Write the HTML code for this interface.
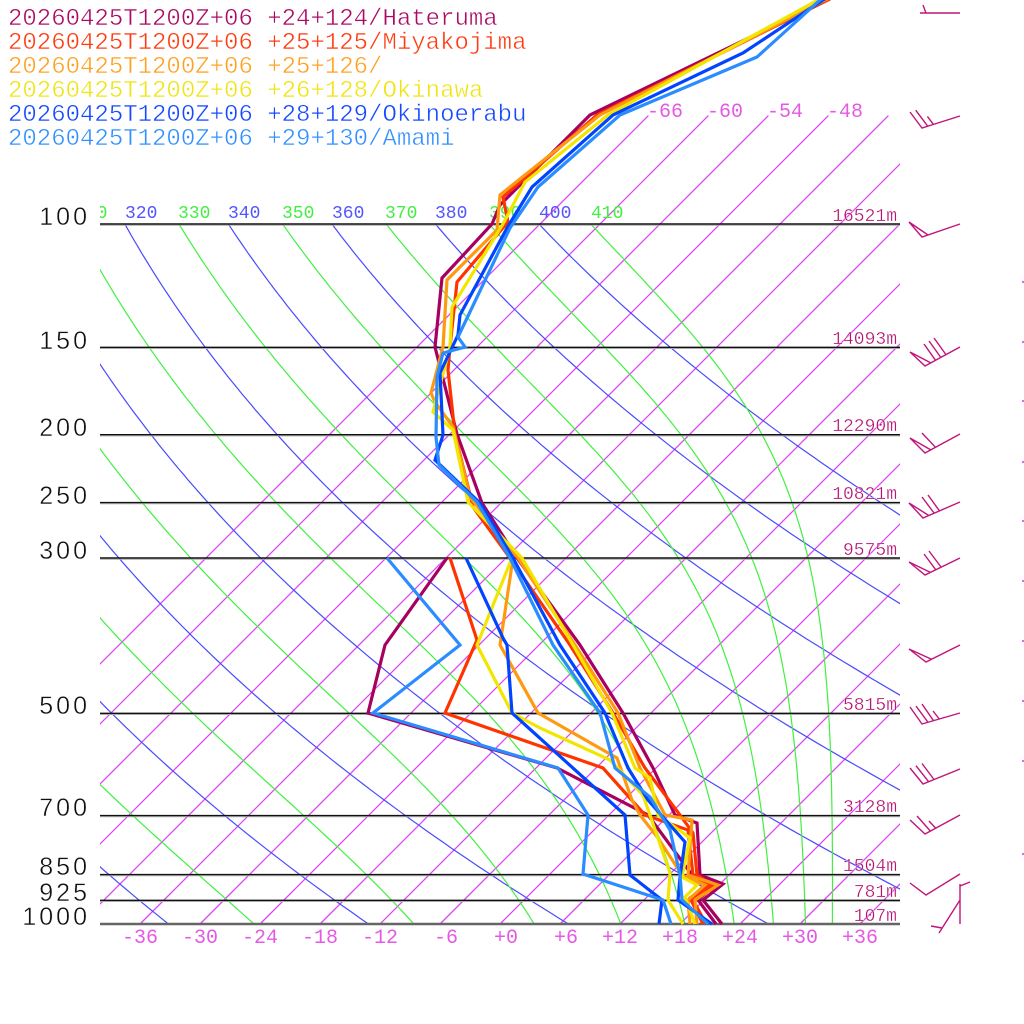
<!DOCTYPE html>
<html>
<head>
<meta charset="utf-8">
<style>
html,body{margin:0;padding:0;background:#fff;overflow:hidden;}
svg{display:block;}
.lg{font-family:"Liberation Mono",monospace;font-size:24px;stroke:#fff;stroke-width:0.45px;}
.pl{font-family:"Liberation Sans",sans-serif;font-size:25px;fill:#111;letter-spacing:3px;stroke:#fff;stroke-width:0.4px;}
.hl{font-family:"Liberation Mono",monospace;font-size:18px;fill:#b3126f;stroke:#fff;stroke-width:0.3px;}
.tl{font-family:"Liberation Mono",monospace;font-size:20px;fill:#e45ae4;}
.th{font-family:"Liberation Mono",monospace;font-size:18px;}
</style>
</head>
<body>
<svg id="s" width="1024" height="1024" viewBox="0 0 1024 1024" xmlns="http://www.w3.org/2000/svg">
<defs>
<clipPath id="pc"><rect x="100" y="0" width="800" height="925"/></clipPath>
<clipPath id="lc"><rect x="100" y="190" width="800" height="40"/></clipPath>
</defs>
<rect x="0" y="0" width="1024" height="1024" fill="#fff"/>
<g id="grid" clip-path="url(#pc)"></g>

<!-- theta labels -->
<g clip-path="url(#lc)" class="th">
<text x="75" y="218" fill="#44ee44">310</text>
<text x="125" y="218" fill="#5555ff">320</text>
<text x="178" y="218" fill="#44ee44">330</text>
<text x="228" y="218" fill="#5555ff">340</text>
<text x="282" y="218" fill="#44ee44">350</text>
<text x="332" y="218" fill="#5555ff">360</text>
<text x="385" y="218" fill="#44ee44">370</text>
<text x="435" y="218" fill="#5555ff">380</text>
<text x="489" y="218" fill="#44ee44">390</text>
<text x="539" y="218" fill="#5555ff">400</text>
<text x="591" y="218" fill="#44ee44">410</text>
</g>

<!-- isotherm labels -->
<g class="tl">
<text x="647" y="117">-66</text>
<text x="707" y="117">-60</text>
<text x="767" y="117">-54</text>
<text x="827" y="117">-48</text>
</g>

<!-- pressure lines -->
<g stroke-width="1">
<line x1="100" y1="225.2" x2="900" y2="225.2" stroke="#aaa"/>
<line x1="100" y1="224" x2="900" y2="224" stroke="#111" stroke-width="1.4"/>
<line x1="100" y1="348.5" x2="900" y2="348.5" stroke="#aaa"/>
<line x1="100" y1="347.3" x2="900" y2="347.3" stroke="#111" stroke-width="1.4"/>
<line x1="100" y1="435.9" x2="900" y2="435.9" stroke="#aaa"/>
<line x1="100" y1="434.7" x2="900" y2="434.7" stroke="#111" stroke-width="1.4"/>
<line x1="100" y1="503.8" x2="900" y2="503.8" stroke="#aaa"/>
<line x1="100" y1="502.6" x2="900" y2="502.6" stroke="#111" stroke-width="1.4"/>
<line x1="100" y1="559.2" x2="900" y2="559.2" stroke="#aaa"/>
<line x1="100" y1="558" x2="900" y2="558" stroke="#111" stroke-width="1.4"/>
<line x1="100" y1="714.5" x2="900" y2="714.5" stroke="#aaa"/>
<line x1="100" y1="713.3" x2="900" y2="713.3" stroke="#111" stroke-width="1.4"/>
<line x1="100" y1="816.8" x2="900" y2="816.8" stroke="#aaa"/>
<line x1="100" y1="815.6" x2="900" y2="815.6" stroke="#111" stroke-width="1.4"/>
<line x1="100" y1="875.8" x2="900" y2="875.8" stroke="#aaa"/>
<line x1="100" y1="874.6" x2="900" y2="874.6" stroke="#111" stroke-width="1.4"/>
<line x1="100" y1="901.5" x2="900" y2="901.5" stroke="#aaa"/>
<line x1="100" y1="900.3" x2="900" y2="900.3" stroke="#111" stroke-width="1.4"/>
<line x1="100" y1="924" x2="900" y2="924" stroke="#666" stroke-width="2.6"/>
</g>

<!-- pressure labels -->
<g class="pl" text-anchor="end">
<text x="90" y="225">100</text>
<text x="90" y="349">150</text>
<text x="90" y="436">200</text>
<text x="90" y="504">250</text>
<text x="90" y="559">300</text>
<text x="90" y="714">500</text>
<text x="90" y="816">700</text>
<text x="90" y="875">850</text>
<text x="90" y="901">925</text>
<text x="90" y="925">1000</text>
</g>

<!-- height labels -->
<g class="hl" text-anchor="end">
<text x="897" y="221">16521m</text>
<text x="897" y="344">14093m</text>
<text x="897" y="431">12290m</text>
<text x="897" y="499">10821m</text>
<text x="897" y="555">9575m</text>
<text x="897" y="710">5815m</text>
<text x="897" y="812">3128m</text>
<text x="897" y="871">1504m</text>
<text x="897" y="897">781m</text>
<text x="897" y="921">107m</text>
</g>

<!-- temperature axis labels -->
<g class="tl">
<text x="122" y="943">-36</text>
<text x="182" y="943">-30</text>
<text x="242" y="943">-24</text>
<text x="302" y="943">-18</text>
<text x="362" y="943">-12</text>
<text x="434" y="943">-6</text>
<text x="494" y="943">+0</text>
<text x="554" y="943">+6</text>
<text x="602" y="943">+12</text>
<text x="662" y="943">+18</text>
<text x="722" y="943">+24</text>
<text x="782" y="943">+30</text>
<text x="842" y="943">+36</text>
</g>

<!-- soundings -->
<g fill="none" stroke-width="3.2" stroke-linejoin="miter" stroke-miterlimit="3">
<polyline stroke="#a8005f" points="716,924 698,900 715,885 692,875 648,815 557,768 368,713 385,645 447,558"/>
<polyline stroke="#a8005f" points="722,924 703,900 723,884 700,875 697,823 675,815 653,768 623,713 580,645 517,558 482,503 457,434 435,347 442,278 492,224 500,205 590,115 827,0 850,-12"/>
<polyline stroke="#ff3300" points="703,924 690,898 708,885 693,875 688,830 645,815 603,768 445,713 477,640 450,558"/>
<polyline stroke="#ff3300" points="706,924 692,898 712,885 697,875 693,833 680,815 645,768 613,713 570,645 510,558 473,507 455,434 448,370 450,347 457,282 508,222 503,197 597,115 828,0 850,-12"/>
<polyline stroke="#ff9a10" points="690,924 688,900 705,885 682,875 658,838 640,815 632,800 617,758 538,713 500,645 513,558"/>
<polyline stroke="#ff9a10" points="697,924 695,900 718,885 688,875 692,820 665,815 640,768 618,713 575,645 518,558 470,497 453,427 435,402 431,393 443,347 447,280 497,230 500,195 600,115 825,0 850,-12"/>
<polyline stroke="#f2e600" points="683,924 668,900 670,873 643,795 610,760 540,728 512,713 477,645 512,558"/>
<polyline stroke="#f2e600" points="695,924 685,897 697,885 682,877 690,838 658,815 650,778 635,768 612,713 573,645 522,558 468,502 453,430 433,412 450,347 452,307 503,224 525,182 608,115 818,0 840,-12"/>
<polyline stroke="#0044ff" points="659,924 662,900 630,875 625,815 512,713 507,645 503,638 466,558"/>
<polyline stroke="#0044ff" points="712,924 678,900 680,877 685,842 648,800 628,768 605,713 560,645 513,558 480,503 435,460 443,435 440,373 458,335 460,315 507,228 532,187 613,115 743,53 823,0 845,-12"/>
<polyline stroke="#2a8cff" points="671,924 663,900 583,874 588,815 558,768 373,713 460,645 387,558"/>
<polyline stroke="#2a8cff" points="708,924 682,900 680,875 670,830 650,797 615,768 600,713 553,645 510,558 477,502 439,465 436,437 437,377 443,353 465,347 458,337 510,228 538,187 620,115 757,57 820,0 840,-12"/>
</g>

<!-- legend -->
<g class="lg">
<text x="8" y="25" fill="#aa0a64">20260425T1200Z+06 +24+124/Hateruma</text>
<text x="8" y="49" fill="#ff3a10">20260425T1200Z+06 +25+125/Miyakojima</text>
<text x="8" y="73" fill="#ffa020">20260425T1200Z+06 +25+126/</text>
<text x="8" y="97" fill="#f0e410">20260425T1200Z+06 +26+128/Okinawa</text>
<text x="8" y="121" fill="#1448ff">20260425T1200Z+06 +28+129/Okinoerabu</text>
<text x="8" y="145" fill="#3090ff">20260425T1200Z+06 +29+130/Amami</text>
</g>

<!-- wind barbs -->
<path fill="none" stroke="#c0157a" stroke-width="1.4" d="
M960,13 L920,13 M926,13 L923,5
M960,116 L922,128 L910,112 M927.7,126.2 L915.7,110.2 M933.4,124.4 L927.4,116.4
M960,224 L922,237 L909,222 L928,235
M960,347 L925,366 L910,352 L931,363 M935.5,360.3 L924,344 M940.8,357.4 L929,341 M946,354.6 L934,338
M960,434 L925,453 L910,438 L931,450 M935.5,447.3 L922,433
M960,502 L923,518 L909,503 L929,515.6 M934,513 L922,497 M939.5,510.9 L928,495
M960,558 L925,575 L909,562 L930.4,572.4 M935.8,569.8 L924,554 M941,567 L929,551
M960,645 L926,662 L909,649 L931.5,659.3
M960,713 L922,724 L910,707 M928,722.3 L916,706 M933.5,720.7 L922,704 M939.3,719 L933,711
M960,769 L923,784 L910,768 M928.6,781.7 L916,765.7 M934,779.5 L922,763.5
M960,815 L925,834 L910,820 M930.3,831 L917,816 M935.5,828 L929,821
M960,874 L926,895 L910,883
M960,900 L939,933 M942,928 L931,926
M960,924 L960,884 M960,886 L970,882"/>

<!-- right edge marks -->
<g fill="#d070ea">
<rect x="1022" y="281" width="2" height="2"/>
<rect x="1022" y="341" width="2" height="2"/>
<rect x="1022" y="400" width="2" height="2"/>
<rect x="1022" y="461" width="2" height="2"/>
<rect x="1022" y="520" width="2" height="2"/>
<rect x="1022" y="580" width="2" height="2"/>
<rect x="1022" y="640" width="2" height="2"/>
<rect x="1022" y="700" width="2" height="2"/>
<rect x="1022" y="760" width="2" height="2"/>
<rect x="1022" y="853" width="2" height="2"/>
</g>
</svg>
<script>
(function(){
var NS="http://www.w3.org/2000/svg";
var g=document.getElementById('grid');
var K=304,Y0=924;
function Y(p){return Y0-K*Math.log(1000/p);}
function X(T,p){return 500+10*T+K*Math.log(1000/p);}
function add(tag,a){var e=document.createElementNS(NS,tag);for(var k in a)e.setAttribute(k,a[k]);g.appendChild(e);return e;}
var T,i;
for(T=-66;T<=36;T+=6){add('line',{x1:X(T,1000),y1:Y0,x2:X(T,70),y2:Y(70),stroke:'#dc46f2','stroke-width':1.3});}
var ps=[];for(i=0;i<=120;i++)ps.push(1000*Math.pow(10,-i/120));
for(var th=240;th<=400;th+=20){
  var pts=[];
  for(i=0;i<ps.length;i++){var p=ps[i];pts.push(X(th*Math.pow(p/1000,0.286)-273.15,p).toFixed(1)+','+Y(p).toFixed(1));}
  add('polyline',{points:pts.join(' '),fill:'none',stroke:'#4a4aff','stroke-width':1.2});
}
function te(Tk,p){var Tc=Tk-273.15;var es=6.112*Math.exp(17.67*Tc/(Tc+243.5));if(es>0.5*p)return 1e9;var r=622*es/(p-es);
  return Tk*Math.pow(1000/p,0.2854*(1-0.00028*r))*Math.exp((3.376/Tk-0.00254)*r*(1+0.00081*r));}
for(var e=250;e<=410;e+=20){
  var pts2=[];
  for(i=0;i<ps.length;i++){var p2=ps[i];var lo=120,hi=340;
    for(var j=0;j<60;j++){var m=(lo+hi)/2;if(te(m,p2)>e)hi=m;else lo=m;}
    pts2.push(X((lo+hi)/2-273.15,p2).toFixed(1)+','+Y(p2).toFixed(1));}
  add('polyline',{points:pts2.join(' '),fill:'none',stroke:'#40f040','stroke-width':1.2});
}
})();
</script>
</body>
</html>
